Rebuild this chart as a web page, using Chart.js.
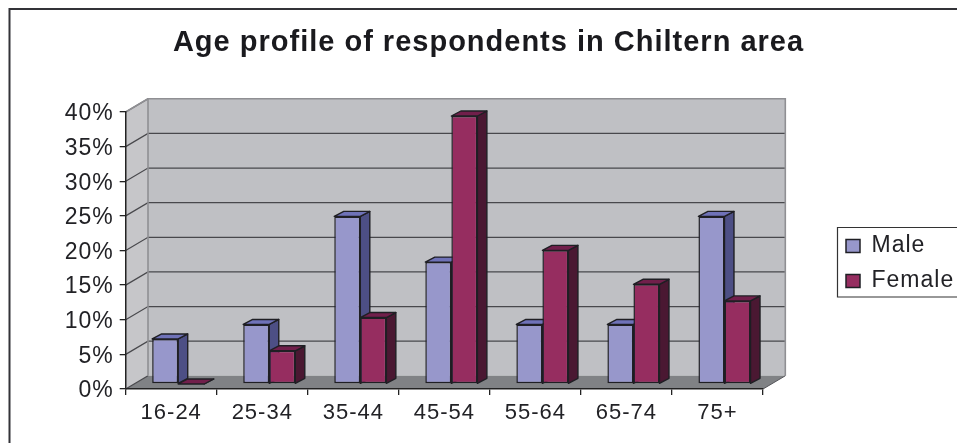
<!DOCTYPE html>
<html><head><meta charset="utf-8">
<style>html,body{margin:0;padding:0;background:#fff}canvas{display:block}</style>
<script src="https://cdn.jsdelivr.net/npm/chart.js@4"></script>
</head><body><canvas id="c" width="957" height="443"></canvas>
<script>
const categories = ['16-24','25-34','35-44','45-54','55-64','65-74','75+'];
const male = [6.5,8.6,24.2,17.6,8.6,8.6,24.2];
const female = [0,4.8,9.6,38.7,19.3,14.4,12.0];
const titleText = 'Age profile of respondents in Chiltern area';
const FONT = '"Liberation Sans", Arial, sans-serif';
const INK = '#222226';
const EDGE = '#1f1f24';
const faces = {
  Male:   {front:'#9797cb', side:'#4d4f85', top:'#6f72b8'},
  Female: {front:'#962d60', side:'#4a1832', top:'#711f4b'}
};
const wallDepth = {x:22.3, y:-13.2};
const barShift = {x:7, y:-5};
const barDepth = {x:9.5, y:-5};

const scene = {
  id:'scene',
  afterLayout(chart){
    const l = chart.legend;
    l.left = 834; l.right = 957; l.width = 123;
    l.top = 222.5; l.bottom = 342; l.height = 119.5;
  },
  beforeDraw(chart){
    const {ctx, chartArea:a, scales:{y}} = chart;
    const d = wallDepth;
    ctx.letterSpacing = '1px';
    ctx.save();
    ctx.fillStyle = '#fff'; ctx.fillRect(0,0,chart.width,chart.height);
    // outer frame
    ctx.strokeStyle = '#333338'; ctx.lineWidth = 2;
    ctx.beginPath(); ctx.moveTo(9.5,443); ctx.lineTo(9.5,9); ctx.lineTo(957,9); ctx.stroke();
    // legend frame
    ctx.lineWidth = 1.2; ctx.strokeStyle = '#333';
    ctx.beginPath(); ctx.moveTo(957,227.5); ctx.lineTo(837.5,227.5); ctx.lineTo(837.5,297); ctx.lineTo(957,297); ctx.stroke();
    // side wall
    ctx.fillStyle = '#c6c6c9';
    ctx.beginPath(); ctx.moveTo(a.left,a.bottom); ctx.lineTo(a.left+d.x,a.bottom+d.y);
    ctx.lineTo(a.left+d.x,a.top+d.y); ctx.lineTo(a.left,a.top); ctx.closePath(); ctx.fill();
    // back wall
    ctx.fillStyle = '#bfc0c4';
    ctx.fillRect(a.left+d.x,a.top+d.y,a.right-a.left,a.bottom-a.top);
    // floor
    ctx.fillStyle = '#808285';
    ctx.beginPath(); ctx.moveTo(a.left,a.bottom); ctx.lineTo(a.right,a.bottom);
    ctx.lineTo(a.right+d.x,a.bottom+d.y); ctx.lineTo(a.left+d.x,a.bottom+d.y); ctx.closePath(); ctx.fill();
    // grid
    ctx.strokeStyle = '#48484c'; ctx.lineWidth = 1.2;
    y.ticks.forEach(t => {
      const p = y.getPixelForValue(t.value);
      ctx.beginPath(); ctx.moveTo(a.left,p); ctx.lineTo(a.left+d.x,p+d.y);
      if (t.value > 0 && t.value < 40) ctx.lineTo(a.right+d.x,p+d.y);
      ctx.stroke();
    });
    // wall outline
    ctx.strokeStyle = '#8f8f93'; ctx.lineWidth = 1.6;
    ctx.beginPath();
    ctx.moveTo(a.left+d.x,a.bottom+d.y); ctx.lineTo(a.left+d.x,a.top+d.y);
    ctx.lineTo(a.right+d.x,a.top+d.y); ctx.lineTo(a.right+d.x,a.bottom+d.y);
    ctx.moveTo(a.left,a.top); ctx.lineTo(a.left+d.x,a.top+d.y);
    ctx.stroke();
    // floor right edge
    ctx.strokeStyle = '#55555a'; ctx.lineWidth = 1;
    ctx.beginPath(); ctx.moveTo(a.right,a.bottom); ctx.lineTo(a.right+d.x,a.bottom+d.y); ctx.stroke();
    ctx.restore();
  },
  beforeDatasetsDraw(chart){
    const ctx = chart.ctx, b = barDepth;
    ctx.save();
    ctx.translate(barShift.x, barShift.y);
    chart.data.datasets.forEach((ds,i) => {
      const f = faces[ds.label];
      chart.getDatasetMeta(i).data.forEach(el => {
        const {x,y,base,width} = el.getProps(['x','y','base','width'], true);
        const L = x-width/2, R = x+width/2;
        ctx.lineWidth = 1.4; ctx.strokeStyle = EDGE; ctx.lineJoin = 'round';
        ctx.fillStyle = f.side;
        ctx.beginPath(); ctx.moveTo(R,y); ctx.lineTo(R+b.x,y+b.y); ctx.lineTo(R+b.x,base+b.y); ctx.lineTo(R,base); ctx.closePath();
        ctx.fill(); ctx.stroke();
        ctx.fillStyle = f.top;
        ctx.beginPath(); ctx.moveTo(L,y); ctx.lineTo(L+b.x,y+b.y); ctx.lineTo(R+b.x,y+b.y); ctx.lineTo(R,y); ctx.closePath();
        ctx.fill(); ctx.stroke();
      });
    });
  },
  afterDatasetsDraw(chart){ chart.ctx.restore(); }
};

new Chart(document.getElementById('c'), {
  type:'bar',
  data:{labels:categories, datasets:[
    {label:'Male', data:male, backgroundColor:faces.Male.front, borderColor:EDGE, borderWidth:1.5, borderSkipped:false, clip:false},
    {label:'Female', data:female, backgroundColor:faces.Female.front, borderColor:EDGE, borderWidth:1.5, borderSkipped:false, clip:false}
  ]},
  plugins:[scene],
  options:{
    responsive:false, animation:false, devicePixelRatio:1,
    categoryPercentage:0.572, barPercentage:1,
    layout:{padding:{left:20,right:0,top:0,bottom:0}},
    plugins:{
      tooltip:{enabled:false},
      title:{display:true,text:titleText,color:'#1a1a1e',
        font:{family:FONT,size:29,weight:'bold',lineHeight:1.2},
        padding:{top:25.6,bottom:51.6}},
      legend:{position:'right',align:'start',
        labels:{color:INK,font:{family:FONT,size:23},boxWidth:14,boxHeight:13,padding:12}}
    },
    scales:{
      x:{
        grid:{drawOnChartArea:false,drawTicks:true,tickLength:6,color:'#222',lineWidth:1.3},
        border:{display:true,color:'#222',width:1.5},
        ticks:{color:INK,font:{family:FONT,size:22},padding:5,autoSkip:false,maxRotation:0},
        afterFit(s){ s.height = 54; s.paddingRight = 194; s.paddingLeft = 0; }
      },
      y:{
        min:0,max:40,
        grid:{drawOnChartArea:false,drawTicks:true,tickLength:6,color:'#222',lineWidth:1.3},
        border:{display:true,color:'#222',width:1.5},
        ticks:{stepSize:5,color:INK,font:{family:FONT,size:23},padding:6,labelOffset:2,callback:v=>v+'%'},
        afterFit(s){ s.width = 105.7; s.paddingTop = 0; s.paddingBottom = 0; }
      }
    }
  }
});
</script></body></html>
